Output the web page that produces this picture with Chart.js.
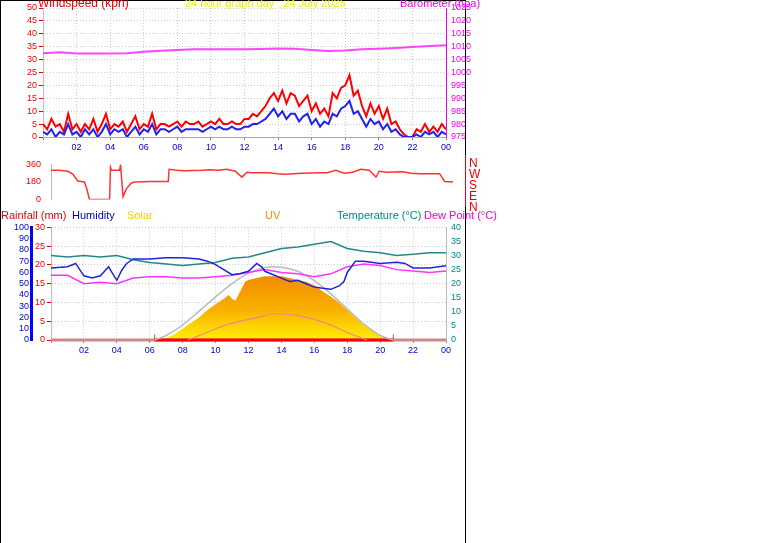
<!DOCTYPE html>
<html><head><meta charset="utf-8">
<script src="https://cdn.jsdelivr.net/npm/chart.js@4"></script>
<style>
body{margin:0;width:761px;height:543px;background:#fff;position:relative;overflow:hidden;font-family:"Liberation Sans",Arial,sans-serif}
canvas{position:absolute}
.t{position:absolute;font-size:11px;white-space:nowrap;line-height:12px}
.ln{position:absolute;background:#000}
</style></head><body>
<canvas id="c1" width="490" height="160" style="left:0;top:0"></canvas>
<canvas id="c2" width="470" height="50" style="left:0;top:157px"></canvas>
<canvas id="c3" width="490" height="143" style="left:0;top:220px"></canvas>
<div class="ln" style="left:0;top:0;width:466px;height:1px"></div>
<div class="ln" style="left:0;top:0;width:1px;height:543px"></div>
<div class="ln" style="left:465px;top:0;width:1px;height:543px"></div>
<div class="ln" style="left:465px;top:155px;width:1px;height:52px;background:#e00"></div>
<div class="t" style="left:38px;top:-3px;color:#e00;font-size:12px">Windspeed (kph)</div>
<div class="t" style="left:185px;top:-3px;color:#ee0">24 hour graph day : 24 July 2025</div>
<div class="t" style="left:400px;top:-3px;color:#e0e">Barometer (hpa)</div>
<div class="t" style="left:469px;top:158px;color:#e00;line-height:11px;font-size:12px">N<br>W<br>S<br>E<br>N</div>
<div class="t" style="left:1px;top:209px;color:#e00">Rainfall (mm)</div>
<div class="t" style="left:72px;top:209px;color:#00c">Humidity</div>
<div class="t" style="left:127px;top:209px;color:#fc0">Solar</div>
<div class="t" style="left:265px;top:209px;color:#f80">UV</div>
<div class="t" style="left:337px;top:209px;color:#088">Temperature (°C)</div>
<div class="t" style="left:424px;top:209px;color:#e0e">Dew Point (°C)</div>
<script>
const hours=[0,1,2,3,4,5,6,7,8,9,10,11,12,13,14,15,16,17,18,19,20,21,22,23,24];
const windGust=[5,3,7,4,5,2,9,3,5,2,5,3,7, 2,5,9,3,5,4,6,2,5,8,3,5, 4,9,3,5,5,4,5,6,4,6,5,5, 6,4,5,6,5,7,5,5,6,5,5,7,
 7,9,8,10, 12,15,17,14, 18,13,17,16, 12,14,16,10, 13,9,11,8, 17,15,19,20, 24,16,18,12, 8,13,9,12, 7,11,5,6, 3,1,0,0, 3,2,5,2, 4,2,5,3];
const windAvg=[2,1,3,0,2,1,5,1,2,0,3,1,3, 0,2,5,1,3,2,3,0,2,4,1,3, 2,5,1,3,3,2,3,4,2,3,3,3, 3,2,3,4,3,4,3,3,4,3,3,4,
 4,5,5,6, 7,9,11,8, 10,7,9,9, 6,8,9,5, 7,4,6,5, 9,8,11,12, 14,9,10,7, 4,7,5,6, 3,5,2,3, 1,0,0,0, 1,0,2,1, 2,0,2,1];
const barometer=[1007.5,1007.8,1007.4,1007.4,1007.4,1007.5,1008,1008.4,1008.7,1009,1009,1009,1009,1009.1,1009.3,1009.2,1008.7,1008.3,1008.5,1009,1009.2,1009.5,1009.9,1010.3,1010.6];
const dirTimes=[0,0.5,1,1.3,1.6,2,2.15,2.3,3.5,3.55,3.6,4.1,4.15,4.3,4.5,4.8,5,6,7,7.05,7.5,8,9,9.5,10,10.5,11,11.4,11.7,12,13,13.5,14,15,16,16.5,17,17.5,18,18.5,19,19.4,19.6,20,21,21.5,22,23,23.2,23.5,24];
const dirValues=[300,300,290,260,190,180,100,0,0,330,300,300,360,30,110,170,180,185,185,310,300,295,300,305,300,310,290,230,280,275,275,265,260,270,275,275,300,270,280,310,300,230,290,280,285,270,265,265,265,185,180];
const temperature=[30,29.5,30,29.5,30,28.5,27.5,27,26.5,27,27.5,29,29.5,31,32.5,33,34,35,32.5,31.5,31,30,30.5,31,31];
const dewPoint=[23,23,20,20.5,20,22,22.5,22.5,22,22,22.5,23,24,25,24,23.5,22.5,23.5,26,27,26.5,25,24.5,24,24.5];
const humTimes=[0,1,1.5,2,2.5,3,3.5,3.7,4,4.3,4.6,5,6,7,8,9,9.5,10,11,11.5,12,12.5,12.8,13,13.5,14,14.5,15,15.5,16,16.5,17,17.5,17.8,18,18.5,19,20,21,21.5,22,23,24];
const humidity=[64,65,68,57,55,57,65,60,53,62,68,72,72,73,73,72,70,67,58,59,61,68,65,61,58,55,52,53,50,47,46,45,48,52,60,70,70,68,69,68,64,64,66];
const solarTimes=[6.3,7,7.5,8,8.5,9,9.5,10,10.5,10.8,11,11.2,11.5,11.8,12,12.5,13,13.5,14,14.5,15,15.5,16,16.5,17,17.5,18,18.5,19,19.5,20,20.5,20.8];
const solar=[0,0.5,1.5,3,4.5,6,8,9.5,11,12,11,10.5,13,15.5,16,16.5,17,17,17,16.5,16,15.5,14.5,13,11.5,10,8,6,4,2.5,1,0.2,0];
const maxSolarTimes=[6.3,7,8,9,10,11,12,13,13.5,14,15,16,17,18,19,20,20.8];
const maxSolar=[0,1.2,4,7.7,11.5,15,17.8,19.3,19.5,19.4,18.3,15.8,12.3,8.3,4.3,1.2,0];
const uvTimes=[8.3,9,10,11,12,13,13.7,14.5,15,16,17,18,19.2];
const uv=[0,1.2,3,4.5,5.5,6.5,7,6.8,6.5,5.5,4,2,0];
const sunTimes=[6.3,20.8];

const zip=(t,v)=>v.map((y,i)=>({x:t[i],y}));
const q=windGust.map((_,i)=>i*0.25);
const F={family:"Liberation Sans",size:9};
const fix=(w)=>({afterFit(s){s.width=w;}});
const fixH=(h)=>({afterFit(s){s.height=h;}});
Chart.defaults.animation=false;
Chart.defaults.plugins.legend.display=false;
Chart.defaults.plugins.tooltip.enabled=false;
Chart.defaults.elements.point.radius=0;
const xAxis=(show)=>({type:'linear',min:0,max:24,ticks:{stepSize:2,display:show,color:'#00c',font:F,maxRotation:0,padding:2,callback:v=>v===0?'':String(v%24).padStart(2,'0')},
  grid:{color:'#ccc',tickColor:'#888',tickLength:3},border:{color:'#aaa',dash:[1,2]},display:true,...fixH(show?20:0)});
const yGrid=(tc)=>({grid:{color:'#ccc',tickColor:tc,tickLength:4},border:{color:'#bbb',dash:[1,2]}});
const tk=(c,s)=>({stepSize:s,color:c,font:F,padding:2,autoSkip:false});

new Chart(c1,{type:'line',data:{datasets:[
 {data:zip(q,windAvg),borderColor:'#22e',borderWidth:2,yAxisID:'y'},
 {data:zip(q,windGust),borderColor:'#f00',borderWidth:2,yAxisID:'y'},
 {data:zip(hours,barometer),borderColor:'#f4f',borderWidth:2,yAxisID:'y2'}]},
 options:{responsive:false,layout:{padding:{top:8,right:0,left:0,bottom:3}},scales:{
  x:xAxis(true),
  y:{min:0,max:50,ticks:tk('#e00',5),...yGrid('#e00'),...fix(43)},
  y2:{position:'right',min:975,max:1025,ticks:{...tk('#e0e',5),callback:v=>String(v)},grid:{display:false,tickColor:'#e0e',tickLength:3},border:{color:'#e0e'},...fix(44)}}}});

new Chart(c2,{type:'line',data:{datasets:[{data:zip(dirTimes,dirValues),borderColor:'#f33',borderWidth:1.5}]},
 options:{responsive:false,layout:{padding:{top:6,bottom:6,right:0}},scales:{
  x:{...xAxis(false),display:false},
  y:{min:0,max:360,ticks:tk('#e00',180),grid:{display:false,tickColor:'#e00'},border:{color:'#bbb'},...fix(51)},
  yr:{position:'right',display:true,ticks:{display:false},grid:{display:false},border:{display:false},...fix(17)}}}});

new Chart(c3,{type:'line',data:{datasets:[
 {data:zip(humTimes,humidity),yAxisID:'hum',borderColor:'#22d',borderWidth:1.5},
 {data:zip(hours,temperature),yAxisID:'temp',borderColor:'#288',borderWidth:1.5},
 {data:zip(hours,dewPoint),yAxisID:'temp',borderColor:'#f3f',borderWidth:1.5},
 {data:zip(uvTimes,uv),yAxisID:'rain',borderColor:'#e88',borderWidth:1.2,cubicInterpolationMode:'monotone'},
 {data:zip(maxSolarTimes,maxSolar),yAxisID:'rain',borderColor:'#bbb',borderWidth:1.5,cubicInterpolationMode:'monotone'},
 {data:[{x:sunTimes[0],y:0},{x:sunTimes[1],y:0}],yAxisID:'rain',borderColor:'#f00',borderWidth:3},
 {data:[{x:0,y:0},{x:24,y:0}],yAxisID:'rain',borderColor:'#c88',borderWidth:3},
 {data:[{x:sunTimes[0],y:-0.3},{x:sunTimes[0],y:1.5}],yAxisID:'rain',borderColor:'#963',borderWidth:1},
 {data:[{x:sunTimes[1],y:-0.3},{x:sunTimes[1],y:1.5}],yAxisID:'rain',borderColor:'#963',borderWidth:1},
 {data:zip(solarTimes,solar),yAxisID:'rain',borderWidth:0,fill:'origin',
  backgroundColor:(ctx)=>{const a=ctx.chart.chartArea;if(!a)return '#f90';const g=ctx.chart.ctx.createLinearGradient(0,a.top+45,0,a.bottom);g.addColorStop(0,'#f08800');g.addColorStop(0.55,'#f8b000');g.addColorStop(1,'#fff000');return g;}}]},
 options:{responsive:false,clip:false,layout:{padding:{top:5,right:0,bottom:3}},scales:{
  x:xAxis(true),
  hum:{axis:'y',position:'left',weight:1,min:0,max:100,ticks:tk('#00c',10),grid:{display:false,tickLength:0},border:{color:'#00f',width:3},...fix(31)},
  rain:{axis:'y',position:'left',weight:0,min:0,max:30,ticks:tk('#e00',5),...yGrid('#e00'),...fix(20)},
  temp:{axis:'y',position:'right',min:0,max:40,ticks:tk('#088',5),grid:{display:false,tickColor:'#088',tickLength:3},border:{color:'#bbb'},...fix(44)}}}});
</script></body></html>
